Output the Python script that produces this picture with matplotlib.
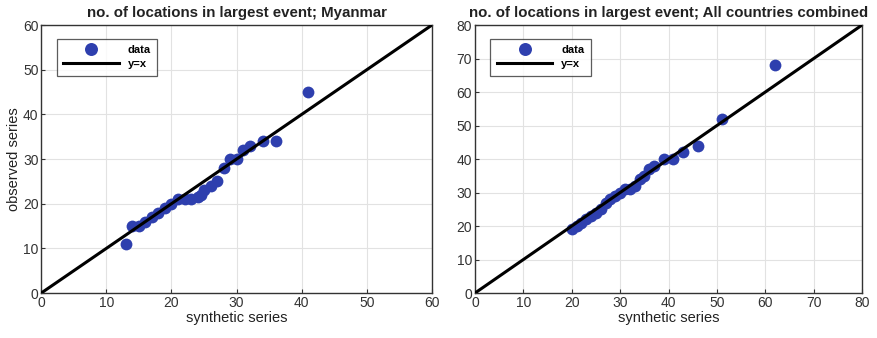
import matplotlib
matplotlib.use("Agg")
import matplotlib.pyplot as plt

plt.rcParams["font.family"] = ["Liberation Sans", "DejaVu Sans"]

# Myanmar (sorted synthetic vs observed)
mm_syn = [13, 14, 15, 16, 17, 18, 19, 20, 21, 22, 23, 24, 24.5, 25, 26, 27, 28, 29, 30, 31, 32, 34, 36, 41]
mm_obs = [11, 15, 15, 16, 17, 18, 19, 20, 21, 21, 21, 21.5, 22, 23, 24, 25, 28, 30, 30, 32, 33, 34, 34, 45]

# All countries combined
all_syn = [20, 21, 22, 23, 24, 25, 26, 27, 28, 29, 30, 31, 32, 33, 34, 35, 36, 37, 39, 41, 43, 46, 51, 62]
all_obs = [19, 20, 21, 22, 23, 24, 25, 27, 28, 29, 30, 31, 31, 32, 34, 35, 37, 38, 40, 40, 42, 44, 52, 68]

titles = ["no. of locations in largest event; Myanmar",
          "no. of locations in largest event; All countries combined"]
limits = [60, 80]
xticks = [list(range(0, 61, 10)), list(range(0, 81, 10))]

dot_color = "#2e3fae"

fig = plt.figure(figsize=(8.77, 3.38), dpi=100)
ax1 = fig.add_axes([0.047, 0.133, 0.4456, 0.793])
ax2 = fig.add_axes([0.5416, 0.133, 0.4414, 0.793])

for ax, xs, ys, title, lim, tk in zip([ax1, ax2], [mm_syn, all_syn], [mm_obs, all_obs], titles, limits, xticks):
    ax.plot(xs, ys, "o", color=dot_color, markersize=8.5, markeredgewidth=0, label="data", zorder=3)
    ax.plot([0, lim], [0, lim], "-", color="black", linewidth=2.2, label="y=x", zorder=4)
    ax.set_xlim(0, lim)
    ax.set_ylim(0, lim)
    ax.set_xticks(tk)
    ax.set_yticks(tk)
    ax.grid(True, color="#e2e2e2", linewidth=0.8)
    ax.set_axisbelow(True)
    ax.tick_params(labelsize=10, direction="in", length=3, pad=2, colors="#333333")
    ax.set_title(title, fontsize=10.8, fontweight="bold", pad=5.5, color="#222222")
    ax.set_xlabel("synthetic series", fontsize=10.5, labelpad=1, color="#222222")
    for s in ax.spines.values():
        s.set_linewidth(1.0)
        s.set_color("#333333")
    leg = ax.legend(loc="upper left", fontsize=8, frameon=True, fancybox=False,
                    edgecolor="#333333", handlelength=5.0, borderpad=0.6,
                    labelspacing=0.35, markerscale=1.1, bbox_to_anchor=(0.025, 0.97))
    leg.get_frame().set_linewidth(0.9)
    for t in leg.get_texts():
        t.set_fontweight("bold")

ax1.set_ylabel("observed series", fontsize=10.5, labelpad=1, color="#222222")

fig.savefig("out.png", dpi=100)
